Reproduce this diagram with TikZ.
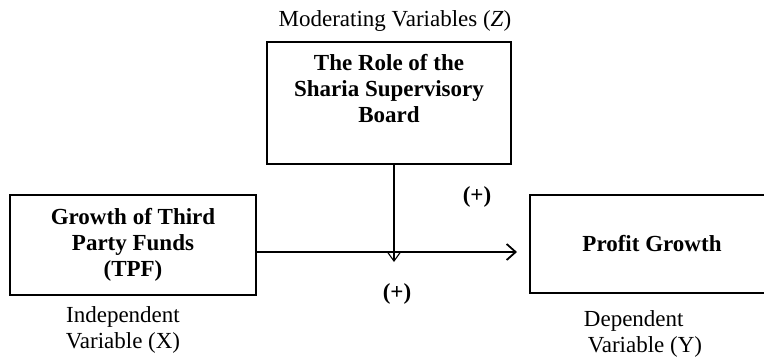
\documentclass[tikz,border=0pt]{standalone}
\usepackage{fontspec}
\setmainfont{Liberation Serif}
\usetikzlibrary{arrows.meta}
\begin{document}
\begin{tikzpicture}[x=1pt,y=-1pt,
  box/.style={draw, line width=2pt, inner sep=0pt, align=center, font=\fontsize{23}{26}\selectfont\bfseries},
  btxt/.style={inner sep=0pt, align=center, font=\fontsize{23}{26}\selectfont\bfseries},
  lbl/.style={inner sep=0pt, align=left, font=\fontsize{23}{26}\selectfont},
  conn/.style={line width=1.8pt}]
\useasboundingbox (0,0) rectangle (764,357);
\clip (0,0) rectangle (764,357);
\node[lbl] (zlab) at (395,21) {Moderating Variables (\textit{Z})};
\node[box, minimum width=244pt, minimum height=122pt] (ssb) at (389,103) {};
\node[btxt, anchor=north] (ssbt) at (389,54) {The Role of the\\Sharia Supervisory\\Board};
\node[box, minimum width=246pt, minimum height=100pt] (tpf) at (133,245) {Growth of Third\\Party Funds\\(TPF)};
\node[box, minimum width=244pt, minimum height=98pt] (pg) at (652,244) {Profit Growth};
\node[lbl, align=center] (xlab) at (123,330) {Independent\\Variable (X)};
\node[lbl, align=left] (ylab) at (643,334) {Dependent\\\,Variable (Y)};
\node[btxt] (p1) at (477,197) {(+)};
\node[btxt] (p2) at (397,294) {(+)};
\coordinate (m) at (394,252);
\draw[conn, -{Straight Barb[length=9pt,width=16pt]}] (tpf.east |- m) -- ([xshift=-12pt]pg.west |- m);
\draw[conn, line width=1.1pt, -{Straight Barb[length=9pt,width=13pt]}] (ssb.south -| m) -- ([yshift=-10pt]m);
\end{tikzpicture}
\end{document}
